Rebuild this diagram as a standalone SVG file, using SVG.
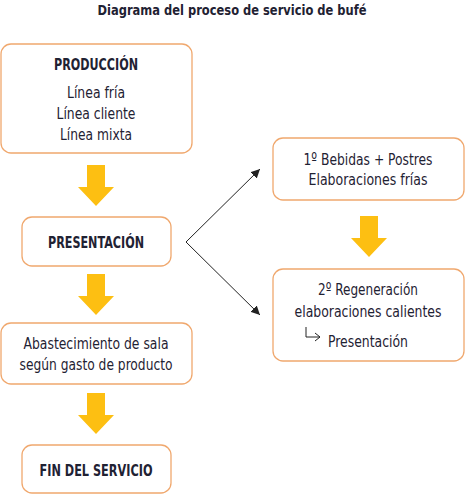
<svg xmlns="http://www.w3.org/2000/svg" width="465" height="494" viewBox="0 0 465 494">
<style>
.box{fill:#fff;stroke:#f0a86e;stroke-width:1.3}
.t{font-family:"DejaVu Sans Condensed","DejaVu Sans",sans-serif;font-size:16.5px;fill:#1f2233;text-anchor:middle}
.b{font-weight:bold}
.ya{fill:#fdbf12}
.ln{stroke:#222;stroke-width:1;fill:none}
</style>
<defs>
<marker id="ah" viewBox="0 0 10 10" refX="10" refY="5" markerWidth="9" markerHeight="9" markerUnits="userSpaceOnUse" orient="auto">
<path d="M0,0 L10,5 L0,10 z" fill="#222"/>
</marker>
<path id="yarrow" d="M-9,0 H9 V22 H18 L0,41 L-18,22 H-9 Z"/>
</defs>
<rect width="465" height="494" fill="#fff"/>
<text class="t b" x="232" y="14.5" style="font-size:14px" textLength="269" lengthAdjust="spacingAndGlyphs">Diagrama del proceso de servicio de bufé</text>

<g id="produccion">
<rect class="box" x="1" y="44" width="191" height="109" rx="10"/>
<text class="t b" x="96" y="70" textLength="84" lengthAdjust="spacingAndGlyphs">PRODUCCIÓN</text>
<text class="t" x="96" y="98" textLength="58" lengthAdjust="spacingAndGlyphs">Línea fría</text>
<text class="t" x="96" y="119" textLength="79" lengthAdjust="spacingAndGlyphs">Línea cliente</text>
<text class="t" x="96" y="140" textLength="72" lengthAdjust="spacingAndGlyphs">Línea mixta</text>
</g>

<g id="presentacion">
<rect class="box" x="22" y="217" width="149" height="49" rx="10"/>
<text class="t b" x="96" y="248" textLength="96" lengthAdjust="spacingAndGlyphs">PRESENTACIÓN</text>
</g>

<g id="abastecimiento">
<rect class="box" x="1" y="323" width="191" height="61" rx="10"/>
<text class="t" x="96" y="349" textLength="145" lengthAdjust="spacingAndGlyphs">Abastecimiento de sala</text>
<text class="t" x="96" y="370" textLength="153" lengthAdjust="spacingAndGlyphs">según gasto de producto</text>
</g>

<g id="fin">
<rect class="box" x="22" y="445" width="149" height="48" rx="10"/>
<text class="t b" x="96" y="476" textLength="113" lengthAdjust="spacingAndGlyphs">FIN DEL SERVICIO</text>
</g>

<g id="bebidas">
<rect class="box" x="273" y="138" width="191" height="62" rx="10"/>
<text class="t" x="368" y="165" textLength="129" lengthAdjust="spacingAndGlyphs">1º Bebidas + Postres</text>
<text class="t" x="368" y="185" textLength="119" lengthAdjust="spacingAndGlyphs">Elaboraciones frías</text>
</g>

<g id="regeneracion">
<rect class="box" x="273" y="269" width="191" height="92" rx="10"/>
<text class="t" x="368" y="295" textLength="100" lengthAdjust="spacingAndGlyphs">2º Regeneración</text>
<text class="t" x="368" y="317" style="font-size:15.5px" textLength="147" lengthAdjust="spacingAndGlyphs">elaboraciones calientes</text>
<path class="ln" d="M306,327 V337 H320 M315,333 L320,337 L315,341"/>
<text class="t" x="368" y="347" textLength="80" lengthAdjust="spacingAndGlyphs">Presentación</text>
</g>

<g id="connectors">
<use href="#yarrow" class="ya" x="96" y="165"/>
<use href="#yarrow" class="ya" x="96" y="274"/>
<use href="#yarrow" class="ya" x="96" y="393"/>
<use href="#yarrow" class="ya" x="369" y="216"/>
<path class="ln" d="M186,242 L260,169" marker-end="url(#ah)"/>
<path class="ln" d="M186,242 L260,315" marker-end="url(#ah)"/>
</g>
</svg>
